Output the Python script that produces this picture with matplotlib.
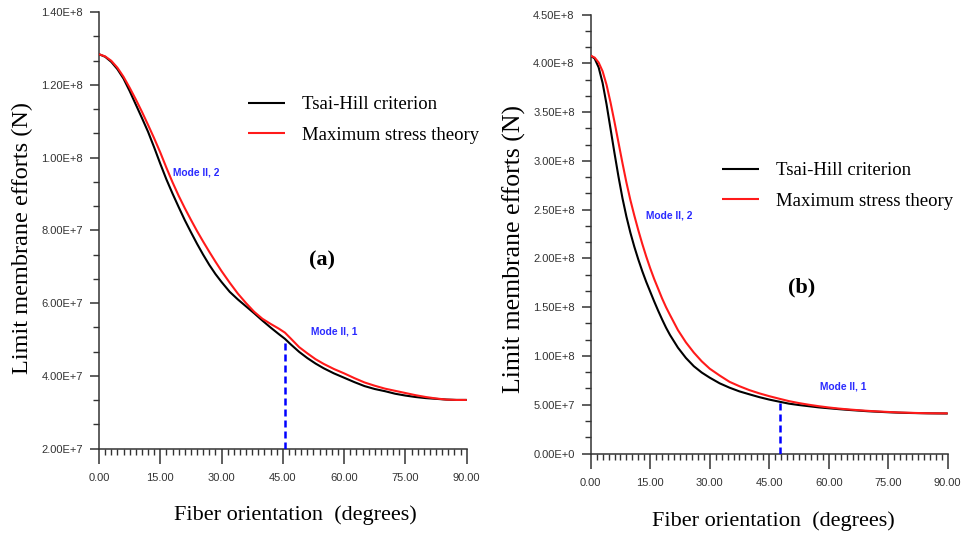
import numpy as np
import matplotlib
matplotlib.use("Agg")
import matplotlib.pyplot as plt
from matplotlib.ticker import MultipleLocator

# ---------------- data (limit membrane efforts, in units of 1e8 N) ----------------
E8 = 1e8

angle_a = [0, 1.5, 3, 4.5, 6, 7.5, 9, 10.5, 12, 13.5, 15, 16.5, 18, 19.5, 21, 22.5,
           24, 25.5, 27, 28.5, 30, 32, 34, 36, 38, 40, 42, 44, 45.5, 47, 49, 51, 53,
           55, 57.5, 60, 62.5, 65, 67.5, 70, 72.5, 75, 77.5, 80, 82.5, 85, 87.5, 90]
tsai_hill_a = [1.284, 1.277, 1.263, 1.243, 1.217, 1.183, 1.146, 1.109, 1.071, 1.028,
               0.983, 0.940, 0.901, 0.864, 0.828, 0.795, 0.763, 0.733, 0.705, 0.680,
               0.658, 0.631, 0.610, 0.591, 0.572, 0.552, 0.533, 0.515, 0.502, 0.486,
               0.466, 0.449, 0.434, 0.421, 0.407, 0.395, 0.383, 0.372, 0.364, 0.358,
               0.351, 0.346, 0.342, 0.339, 0.337, 0.335, 0.334, 0.334]
max_stress_a = [1.284, 1.278, 1.266, 1.247, 1.222, 1.192, 1.160, 1.126, 1.090, 1.053,
                1.014, 0.972, 0.932, 0.895, 0.861, 0.829, 0.798, 0.769, 0.741, 0.714,
                0.688, 0.656, 0.626, 0.600, 0.576, 0.557, 0.543, 0.530, 0.519, 0.502,
                0.479, 0.462, 0.446, 0.433, 0.419, 0.407, 0.394, 0.382, 0.373, 0.365,
                0.359, 0.353, 0.347, 0.342, 0.338, 0.335, 0.334, 0.334]
mode_switch_a = 45.5

angle_b = [0, 1, 2, 3, 4, 5, 6, 7, 8, 9, 10, 11, 12, 13, 14, 15, 16, 17, 18, 19, 20,
           22, 24, 26, 28, 30, 32.5, 35, 37.5, 40, 42.5, 45, 47.7, 50, 52.5, 55, 57.5,
           60, 62.5, 65, 67.5, 70, 72.5, 75, 77.5, 80, 82.5, 85, 87.5, 90]
tsai_hill_b = [4.08, 4.05, 3.96, 3.80, 3.58, 3.33, 3.08, 2.84, 2.62, 2.43, 2.265, 2.12,
               1.99, 1.87, 1.76, 1.66, 1.56, 1.465, 1.375, 1.29, 1.215, 1.085, 0.98,
               0.895, 0.83, 0.778, 0.72, 0.675, 0.637, 0.607, 0.578, 0.553, 0.53, 0.511,
               0.497, 0.485, 0.473, 0.464, 0.455, 0.447, 0.44, 0.433, 0.428, 0.423,
               0.419, 0.416, 0.414, 0.412, 0.411, 0.41]
max_stress_b = [4.08, 4.06, 4.01, 3.92, 3.78, 3.60, 3.40, 3.19, 2.98, 2.78, 2.60, 2.44,
                2.29, 2.15, 2.02, 1.90, 1.79, 1.69, 1.59, 1.50, 1.42, 1.265, 1.14, 1.035,
                0.945, 0.87, 0.80, 0.735, 0.69, 0.65, 0.617, 0.588, 0.56, 0.537, 0.517,
                0.50, 0.485, 0.472, 0.461, 0.452, 0.444, 0.437, 0.431, 0.426, 0.421,
                0.418, 0.415, 0.413, 0.412, 0.412]
mode_switch_b = 47.7

xticks = [0, 15, 30, 45, 60, 75, 90]
xtick_labels = ["0.00", "15.00", "30.00", "45.00", "60.00", "75.00", "90.00"]
yticks_a = [2e7, 4e7, 6e7, 8e7, 1e8, 1.2e8, 1.4e8]
ytick_labels_a = ["2.00E+7", "4.00E+7", "6.00E+7", "8.00E+7", "1.00E+8", "1.20E+8", "1.40E+8"]
yticks_b = [0, 5e7, 1e8, 1.5e8, 2e8, 2.5e8, 3e8, 3.5e8, 4e8, 4.5e8]
ytick_labels_b = ["0.00E+0", "5.00E+7", "1.00E+8", "1.50E+8", "2.00E+8",
                  "2.50E+8", "3.00E+8", "3.50E+8", "4.00E+8", "4.50E+8"]
series_names = ["Tsai-Hill criterion", "Maximum stress theory"]

# ---------------- styling ----------------
SERIF = ["Liberation Serif", "DejaVu Serif"]
SANS = ["Liberation Sans", "DejaVu Sans"]
AX_COLOR = "#333333"
BLUE = "#2a2aff"

W, H = 968, 536
fig = plt.figure(figsize=(W / 100, H / 100), dpi=100)


def px_axes(x0, x1, ytop, ybot):
    return fig.add_axes([x0 / W, 1 - ybot / H, (x1 - x0) / W, (ybot - ytop) / H])


def style_axes(ax, ylim, yticks, ylabels, minor_y):
    ax.set_xlim(0, 90)
    ax.set_ylim(*ylim)
    for s in ("top", "right"):
        ax.spines[s].set_visible(False)
    for s in ("left", "bottom"):
        ax.spines[s].set_color(AX_COLOR)
        ax.spines[s].set_linewidth(1.1)
    ax.set_xticks(xticks)
    ax.set_xticklabels(xtick_labels)
    ax.set_yticks(yticks)
    ax.set_yticklabels(ylabels)
    ax.xaxis.set_minor_locator(MultipleLocator(1.5))
    ax.yaxis.set_minor_locator(MultipleLocator(minor_y))
    ax.tick_params(axis="x", which="major", direction="out", length=10.6, width=1.1,
                   color=AX_COLOR, pad=7.2, labelsize=8, labelcolor=AX_COLOR)
    ax.tick_params(axis="x", which="minor", direction="out", length=4.5, width=1.0,
                   color=AX_COLOR)
    ax.tick_params(axis="y", which="major", direction="out", length=6.7, width=1.1,
                   color=AX_COLOR, pad=4.8, labelsize=8, labelcolor=AX_COLOR)
    ax.tick_params(axis="y", which="minor", direction="out", length=4.3, width=1.0,
                   color=AX_COLOR)
    for lab in ax.get_xticklabels() + ax.get_yticklabels():
        lab.set_family(SANS)


def draw_curves(ax, ang, th, ms):
    ang = np.asarray(ang)
    kw = dict(lw=1.5, solid_joinstyle="round", solid_capstyle="butt")
    l1, = ax.plot(ang, np.asarray(th) * E8, color="black", zorder=3, **kw)
    l2, = ax.plot(ang, np.asarray(ms) * E8, color="#ff1a1a", zorder=4, **kw)
    return l1, l2


def add_legend(ax, handles, anchor_px):
    ax.legend(handles, series_names, loc="upper left",
              bbox_to_anchor=(anchor_px[0] / W, 1 - anchor_px[1] / H),
              bbox_transform=fig.transFigure, frameon=False, borderpad=0,
              borderaxespad=0, handlelength=1.95, handletextpad=0.95,
              labelspacing=0.72, prop={"family": SERIF, "size": 13.5})


def mode_label(ax, x, y, text):
    ax.text(x, y, text, color=BLUE, fontsize=7.4, fontweight="bold",
            family=SANS, ha="left", va="center")


# ---------------- panel (a) ----------------
ax1 = px_axes(99, 466.7, 12, 448.7)
style_axes(ax1, (2e7, 1.4e8), yticks_a, ytick_labels_a, 2e7 / 3)
h1 = draw_curves(ax1, angle_a, tsai_hill_a, max_stress_a)
top_a = np.interp(mode_switch_a, angle_a, tsai_hill_a) * E8
ax1.plot([mode_switch_a, mode_switch_a], [2e7, top_a], color="#0000ff", lw=1.8,
         dashes=(2.8, 1.6), zorder=5)
mode_label(ax1, 18.1, 0.96e8, "Mode II, 2")
mode_label(ax1, 51.8, 0.521e8, "Mode II, 1")
ax1.text(54.6, 0.718e8, "(a)", fontsize=16, fontweight="bold", family=SERIF,
         ha="center", va="center")
add_legend(ax1, h1, (248, 96))

# ---------------- panel (b) ----------------
ax2 = px_axes(590.7, 947.7, 14.7, 453.5)
style_axes(ax2, (0, 4.5e8), yticks_b, ytick_labels_b, 0.5e8 / 3)
h2 = draw_curves(ax2, angle_b, tsai_hill_b, max_stress_b)
top_b = np.interp(mode_switch_b, angle_b, max_stress_b) * E8
ax2.plot([mode_switch_b, mode_switch_b], [0, top_b], color="#0000ff", lw=1.8,
         dashes=(2.8, 1.6), zorder=5)
mode_label(ax2, 13.9, 2.445e8, "Mode II, 2")
mode_label(ax2, 57.8, 0.682e8, "Mode II, 1")
ax2.text(53.2, 1.707e8, "(b)", fontsize=16, fontweight="bold", family=SERIF,
         ha="center", va="center")
add_legend(ax2, h2, (722, 162))

# ---------------- axis titles ----------------
YLABEL = "Limit membrane efforts (N)"
XLABEL = "Fiber orientation  (degrees)"
fig.text(22 / W, 1 - 238 / H, YLABEL, rotation=90, ha="center", va="center",
         family=SERIF, fontsize=17.5)
fig.text(514 / W, 1 - 249 / H, YLABEL, rotation=90, ha="center", va="center",
         family=SERIF, fontsize=18.5)
fig.text(295 / W, 1 - 515 / H, XLABEL, ha="center", va="center",
         family=SERIF, fontsize=16)
fig.text(773 / W, 1 - 521 / H, XLABEL, ha="center", va="center",
         family=SERIF, fontsize=16)

fig.savefig("out.png", dpi=100, facecolor="white")
